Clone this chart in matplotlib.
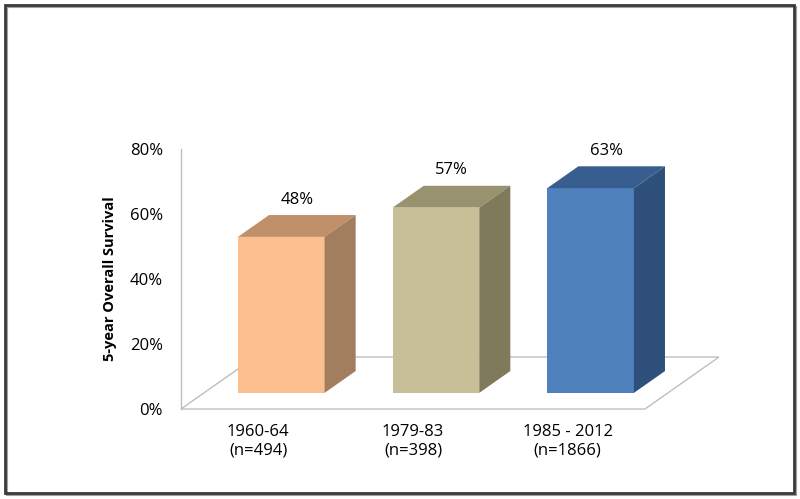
import matplotlib
matplotlib.use("Agg")
import matplotlib.pyplot as plt
from matplotlib.patches import Polygon, Rectangle

# ---- data ----
categories = ["1960-64\n(n=494)", "1979-83\n(n=398)", "1985 - 2012\n(n=1866)"]
survival = [48, 57, 63]
value_labels = ["48%", "57%", "63%"]
yticks = [0, 20, 40, 60, 80]
ytick_labels = ["0%", "20%", "40%", "60%", "80%"]
ylabel = "5-year Overall Survival"

front_colors = ["#FBBF8E", "#C6BF98", "#4F81BD"]
top_colors = ["#C0906B", "#98926F", "#385E8F"]
side_colors = ["#A27D5E", "#7F7A5C", "#30507C"]

plt.rcParams['font.family'] = ['Open Sans', 'DejaVu Sans']

W, H = 800, 499
fig = plt.figure(figsize=(W / 100, H / 100), dpi=100)
ax = fig.add_axes([181 / W, (H - 409) / H, 464 / W, 260 / H])
ax.set_xlim(-0.5, 2.5)
ax.set_ylim(0, 80)

# depth projection in data units (full floor depth)
DX = 74 / (464 / 3)
DY = 52 / (260 / 80)
d0 = 0.31   # front of bars (fraction of depth)
dd = 0.42   # bar depth (fraction)
bw = 0.56

gray = "#BFBFBF"
# floor
floor = Polygon([(-0.5, 0), (2.5, 0), (2.5 + DX, DY), (-0.5 + DX, DY)],
                closed=True, fill=False, edgecolor=gray, lw=1.0, zorder=1,
                clip_on=False)
ax.add_patch(floor)

xs = list(range(len(survival)))
bars = ax.bar([x + d0 * DX for x in xs], survival, width=bw, bottom=d0 * DY,
              color=front_colors, zorder=3, linewidth=0)

for x, v, tc, sc, lab in zip(xs, survival, top_colors, side_colors, value_labels):
    xl = x + d0 * DX - bw / 2
    xr = x + d0 * DX + bw / 2
    y0 = d0 * DY
    yt = y0 + v
    ox, oy = dd * DX, dd * DY
    top = Polygon([(xl, yt), (xr, yt), (xr + ox, yt + oy), (xl + ox, yt + oy)],
                  closed=True, facecolor=tc, edgecolor='none', zorder=3, clip_on=False)
    side = Polygon([(xr, y0), (xr + ox, y0 + oy), (xr + ox, yt + oy), (xr, yt)],
                   closed=True, facecolor=sc, edgecolor='none', zorder=3, clip_on=False)
    ax.add_patch(top)
    ax.add_patch(side)
    ax.annotate(lab, xy=(x + d0 * DX + ox / 2, yt + oy / 2), xytext=(0, 19),
                textcoords='offset points', ha='center', va='center',
                fontsize=12, color='black', annotation_clip=False)

for s in ['top', 'right', 'bottom']:
    ax.spines[s].set_visible(False)
ax.spines['left'].set_color(gray)
ax.spines['left'].set_linewidth(1.0)

ax.set_yticks(yticks)
ax.set_yticklabels(ytick_labels, fontsize=12)
ax.set_xticks(xs)
ax.set_xticklabels(categories, fontsize=12, linespacing=1.15)
ax.tick_params(axis='y', length=0, pad=13)
ax.tick_params(axis='x', length=0, pad=11)
ax.patch.set_visible(False)

fig.text(110 / W, 1 - 279 / H, ylabel, rotation=90, ha='center', va='center',
         fontsize=10.5, fontweight='bold')

# chart border with slight shadow
fig.add_artist(Rectangle((6.5 / W, (H - 495) / H), 789.5 / W, 488.5 / H,
                         transform=fig.transFigure, fill=False,
                         edgecolor="#A0A0A0", lw=1.5))
fig.add_artist(Rectangle((4.5 / W, (H - 493) / H), 789.5 / W, 488.5 / H,
                         transform=fig.transFigure, fill=False,
                         edgecolor="#3A3A3A", lw=2.0))

fig.savefig("out.png", dpi=100)
